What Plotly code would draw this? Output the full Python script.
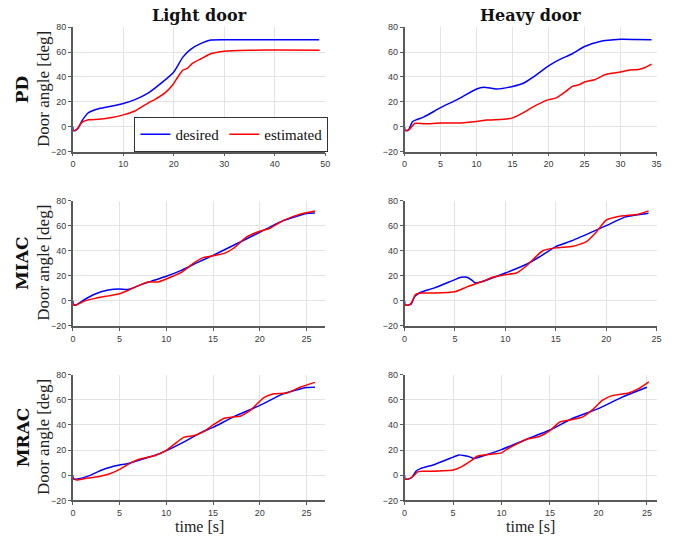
import plotly.graph_objects as go

# ---------------- data ----------------
# PD, light door
t_pd_light_des = [0, 0.05, 0.5, 1.0, 1.8, 2.5, 3.1, 4.0, 5.1, 7.0, 10.0, 12.3, 14.9, 17.5, 20.0, 21.8, 23.4, 25.4, 27.3, 30.0, 35.0, 40.0, 45.0, 48.8]
y_pd_light_des = [0, -3, -3, -1.5, 4.7, 8.7, 11.3, 13.0, 14.5, 16.0, 18.7, 21.8, 27.0, 35.0, 44.0, 56.0, 62.4, 67.0, 69.7, 70.0, 70.0, 70.0, 70.0, 70.0]
t_pd_light_est = [0, 0.5, 1.0, 1.8, 3.1, 5.1, 7.7, 10.0, 12.3, 14.9, 16.2, 18.2, 19.8, 20.8, 21.8, 22.7, 23.7, 25.4, 27.3, 30.0, 35.2, 41.0, 48.9]
y_pd_light_est = [-3, -3, -1.0, 3.4, 5.5, 6.0, 7.4, 9.5, 12.6, 19.0, 21.8, 27.0, 33.7, 40.0, 45.5, 47.0, 51.0, 54.7, 58.7, 60.8, 61.5, 61.8, 61.5]

# PD, heavy door
t_pd_heavy_des = [0, 0.05, 0.5, 1.1, 1.6, 2.7, 5.0, 7.3, 10.0, 11.0, 12.8, 15.0, 16.5, 17.8, 20.0, 21.5, 23.3, 25.0, 27.0, 30.0, 32.0, 34.3]
y_pd_heavy_des = [0, -3, -3, 4.0, 5.5, 7.9, 15.3, 21.8, 30.3, 31.8, 30.3, 32.4, 35.0, 39.7, 49.0, 54.0, 58.7, 64.5, 68.4, 70.3, 70.2, 70.0]
t_pd_heavy_est = [0, 0.6, 1.4, 2.7, 5.0, 7.3, 10.0, 11.4, 13.7, 15.0, 16.5, 17.8, 20.0, 21.0, 22.4, 23.3, 24.2, 25.0, 26.5, 27.9, 30.0, 31.1, 32.5, 33.4, 34.3]
y_pd_heavy_est = [-3, -2.6, 2.6, 2.4, 2.9, 2.9, 4.2, 5.3, 6.0, 7.1, 11.3, 15.8, 21.8, 23.0, 28.4, 32.4, 33.7, 36.0, 38.0, 42.0, 44.0, 45.5, 46.0, 47.6, 50.3]

# MIAC, light door
t_miac_light_des = [0, 0.05, 0.3, 1.3, 2.4, 3.8, 5.0, 5.9, 7.3, 8.7, 10.0, 11.6, 13.3, 15.0, 17.2, 20.0, 22.5, 25.0, 25.9]
y_miac_light_des = [0, -3, -3.4, 1.3, 5.5, 8.6, 9.4, 9.1, 13.0, 16.4, 19.6, 24.3, 30.5, 36.3, 44.4, 54.8, 64.0, 69.8, 70.2]
t_miac_light_est = [0, 0.3, 1.3, 2.4, 3.8, 5.0, 5.9, 7.3, 8.0, 9.1, 10.0, 11.6, 13.0, 14.0, 15.0, 16.2, 17.2, 18.6, 20.0, 21.1, 22.5, 24.3, 25.9]
y_miac_light_est = [-2.5, -3.4, 0.0, 2.0, 4.0, 5.7, 8.4, 13.0, 15.0, 15.1, 17.5, 22.7, 30.5, 34.7, 36.0, 37.9, 42.0, 51.0, 55.6, 58.0, 64.0, 69.2, 71.8]

# MIAC, heavy door
t_miac_heavy_des = [0, 0.05, 0.3, 0.65, 1.0, 1.5, 2.9, 5.0, 5.6, 6.2, 6.7, 7.0, 7.8, 10.0, 12.1, 13.4, 15.0, 16.7, 20.0, 21.9, 24.2]
y_miac_heavy_des = [0, -3, -3.4, -2.6, 3.4, 6.5, 10.2, 17.0, 18.8, 18.8, 16.4, 14.4, 15.7, 22.2, 29.2, 35.2, 43.3, 48.3, 60.0, 67.0, 70.0]
t_miac_heavy_est = [0, 0.3, 0.65, 1.1, 1.6, 2.9, 5.0, 5.6, 6.2, 7.2, 7.8, 8.8, 10.0, 11.1, 12.1, 12.7, 13.7, 15.0, 16.7, 18.0, 19.0, 20.0, 21.2, 23.2, 24.2]
y_miac_heavy_est = [-3, -3.4, -1.8, 5.2, 6.3, 6.3, 7.3, 9.1, 11.2, 14.1, 15.7, 19.0, 20.9, 22.2, 28.0, 32.6, 40.0, 42.3, 43.6, 47.0, 54.8, 64.5, 67.4, 69.2, 71.8]

# MRAC, light door
t_mrac_light_des = [0, 0.05, 0.35, 1.7, 3.1, 4.2, 5.0, 5.9, 7.3, 8.8, 10.0, 11.9, 13.7, 15.0, 17.2, 20.0, 22.5, 25.0, 25.9]
y_mrac_light_des = [0, -3, -3.1, -0.5, 4.2, 6.8, 8.1, 9.4, 12.5, 15.9, 19.6, 26.6, 33.9, 38.1, 46.5, 55.6, 64.8, 69.8, 70.0]
t_mrac_light_est = [0, 0.35, 1.3, 2.8, 3.8, 5.0, 5.9, 7.0, 8.8, 10.0, 10.9, 11.9, 13.0, 14.0, 15.0, 16.2, 17.2, 17.9, 19.0, 20.4, 21.5, 22.9, 24.3, 25.9]
y_mrac_light_est = [-2, -3.7, -2.6, -1.0, 0.8, 4.7, 8.6, 12.5, 15.7, 19.8, 25.0, 30.3, 31.6, 34.7, 40.0, 45.4, 46.5, 47.0, 51.7, 61.6, 64.8, 65.5, 70.0, 73.9]

# MRAC, heavy door
t_mrac_heavy_des = [0, 0.05, 0.35, 0.75, 1.2, 1.7, 3.1, 5.0, 5.6, 6.1, 6.8, 7.1, 8.2, 10.0, 12.6, 15.0, 17.3, 20.0, 22.4, 25.0]
y_mrac_heavy_des = [0, -3, -3.1, -1.8, 3.4, 5.5, 8.6, 14.4, 16.2, 15.7, 14.4, 13.3, 15.7, 20.4, 28.7, 36.0, 45.2, 53.0, 62.0, 70.0]
t_mrac_heavy_est = [0, 0.35, 0.85, 1.4, 2.4, 5.0, 5.8, 6.8, 7.5, 8.5, 10.0, 10.5, 11.6, 12.6, 13.9, 15.0, 16.0, 17.0, 18.4, 19.4, 20.4, 21.4, 23.1, 24.1, 25.2]
y_mrac_heavy_est = [-3, -3.1, -1.0, 2.9, 3.1, 4.2, 6.5, 11.2, 15.1, 16.4, 17.8, 20.4, 25.0, 28.7, 30.8, 35.5, 42.3, 43.9, 46.5, 52.2, 59.5, 63.4, 65.5, 68.7, 74.4]

row_labels = ["PD", "MIAC", "MRAC"]
col_titles = ["Light door", "Heavy door"]
series_names = ["desired", "estimated"]
x_ranges = [[0, 50], [0, 35], [0, 27], [0, 25], [0, 27], [0, 26]]
x_dticks = [10, 5, 5, 5, 5, 5]

panels = [
    (t_pd_light_des, y_pd_light_des, t_pd_light_est, y_pd_light_est),
    (t_pd_heavy_des, y_pd_heavy_des, t_pd_heavy_est, y_pd_heavy_est),
    (t_miac_light_des, y_miac_light_des, t_miac_light_est, y_miac_light_est),
    (t_miac_heavy_des, y_miac_heavy_des, t_miac_heavy_est, y_miac_heavy_est),
    (t_mrac_light_des, y_mrac_light_des, t_mrac_light_est, y_mrac_light_est),
    (t_mrac_heavy_des, y_mrac_heavy_des, t_mrac_heavy_est, y_mrac_heavy_est),
]

# ---------------- layout geometry (pixels) ----------------
W, H = 686, 541
col_px = [(70.7, 326.0), (406.3, 661.3)]
row_px = [(22.7, 149.3), (199.3, 327.0), (376.7, 504.7)]

def xd(a, b):
    return [a / W, b / W]

def yd(top, bot):
    return [1 - bot / H, 1 - top / H]

fig = go.Figure()
SERIF = "Liberation Serif"
SERIF_B = "DejaVu Serif"
colors = ["#0000ff", "#ff0000"]

layout_axes = {}
for i, (td, yd_, te, ye) in enumerate(panels):
    r, c = divmod(i, 2)
    n = i + 1
    xa = "x" if n == 1 else f"x{n}"
    ya = "y" if n == 1 else f"y{n}"
    for k, (tt, yy) in enumerate([(td, yd_), (te, ye)]):
        fig.add_trace(go.Scatter(
            x=tt, y=yy, mode="lines", name=series_names[k],
            line=dict(color=colors[k], width=1.5, shape="spline", smoothing=0.5),
            xaxis=xa, yaxis=ya, showlegend=(i == 0),
        ))
    axis_common = dict(
        showgrid=True, gridcolor="#e3e3e3", gridwidth=1, zeroline=False,
        showline=True, linecolor="#5a5a5a", linewidth=1.5, mirror=False,
        ticks="outside", ticklen=3, tickcolor="#5a5a5a", tickwidth=1,
        tickfont=dict(family="Liberation Sans", size=9, color="#3a3a3a"),
    )
    layout_axes["xaxis" if n == 1 else f"xaxis{n}"] = dict(
        axis_common, domain=xd(*col_px[c]), range=x_ranges[i], dtick=x_dticks[i],
        tick0=0, anchor=ya,
    )
    layout_axes["yaxis" if n == 1 else f"yaxis{n}"] = dict(
        axis_common, domain=yd(*row_px[r]), range=[-20, 80], dtick=20, tick0=0,
        anchor=xa,
    )

fig.update_layout(**layout_axes)

annotations = []
for c in range(2):
    cx = (col_px[c][0] + col_px[c][1]) / 2 / W
    annotations.append(dict(
        text=f"<b>{col_titles[c]}</b>", x=cx, y=1 - 11 / H, xref="paper", yref="paper",
        xanchor="center", yanchor="middle", showarrow=False,
        font=dict(family=SERIF_B, size=16, color="#111111"),
    ))
    annotations.append(dict(
        text="time [s]", x=cx, y=1 - 531 / H, xref="paper", yref="paper",
        xanchor="center", yanchor="middle", showarrow=False,
        font=dict(family=SERIF, size=16, color="#222222"),
    ))
for r in range(3):
    cy = 1 - (row_px[r][0] + row_px[r][1]) / 2 / H
    annotations.append(dict(
        text=f"<b>{row_labels[r]}</b>", x=20 / W, y=cy, xref="paper", yref="paper",
        xanchor="center", yanchor="middle", showarrow=False, textangle=-90,
        font=dict(family=SERIF_B, size=17, color="#111111"),
    ))
    annotations.append(dict(
        text="Door angle [deg]", x=41 / W, y=cy, xref="paper", yref="paper",
        xanchor="center", yanchor="middle", showarrow=False, textangle=-90,
        font=dict(family=SERIF, size=17, color="#222222"),
    ))

fig.update_layout(
    width=W, height=H, margin=dict(l=0, r=0, t=0, b=0),
    paper_bgcolor="white", plot_bgcolor="white",
    annotations=annotations,
    legend=dict(
        orientation="h", x=133 / W, y=1 - 114 / H, xanchor="left", yanchor="top",
        bgcolor="white", bordercolor="#333333", borderwidth=1,
        font=dict(family=SERIF, size=15, color="#111111"),
        itemwidth=30, tracegroupgap=0,
    ),
)

fig.write_html(
    "out.html",
    config={"displayModeBar": False},
    post_script="document.body.style.margin='0px';document.body.style.overflow='hidden';",
)
